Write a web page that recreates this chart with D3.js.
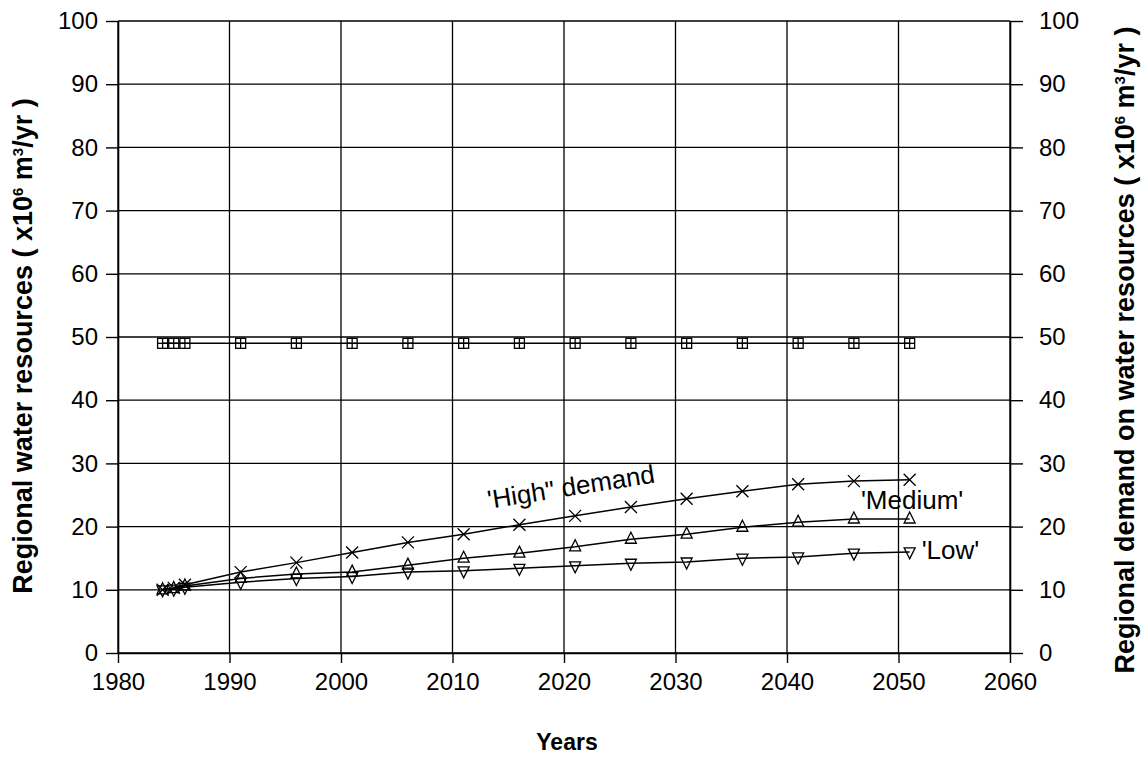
<!DOCTYPE html>
<html>
<head>
<meta charset="utf-8">
<script src="https://cdn.jsdelivr.net/npm/d3@7"></script>
<style>
  html, body { margin: 0; padding: 0; background: #fff; }
  svg { display: block; font-family: "Liberation Sans", Arial, sans-serif; }
</style>
</head>
<body>
<svg id="chart" width="1145" height="762"></svg>
<script>
// ---- data ----
const years = [1984, 1985, 1986, 1991, 1996, 2001, 2006, 2011, 2016, 2021, 2026, 2031, 2036, 2041, 2046, 2051];
const resources = [49, 49, 49, 49, 49, 49, 49, 49, 49, 49, 49, 49, 49, 49, 49, 49];
const highDemand = [10.0, 10.3, 10.8, 12.8, 14.3, 15.9, 17.5, 18.8, 20.3, 21.7, 23.1, 24.4, 25.6, 26.7, 27.2, 27.4];
const mediumDemand = [10.0, 10.2, 10.6, 11.8, 12.5, 12.8, 13.9, 15.0, 15.8, 16.8, 18.0, 18.8, 19.9, 20.7, 21.2, 21.2];
const lowDemand = [10.0, 10.1, 10.4, 11.2, 11.8, 12.1, 12.8, 13.0, 13.4, 13.8, 14.2, 14.4, 15.0, 15.2, 15.8, 16.0];
const xTicks = [1980, 1990, 2000, 2010, 2020, 2030, 2040, 2050, 2060];
const yTicks = [0, 10, 20, 30, 40, 50, 60, 70, 80, 90, 100];

// ---- layout ----
const svg = d3.select("#chart");
const L = 118, R = 1010, T = 21, B = 653;
const x = d3.scaleLinear().domain([1980, 2060]).range([L, R]);
const y = d3.scaleLinear().domain([0, 100]).range([B, T]);

// grid
const grid = svg.append("g").attr("stroke", "#000").attr("stroke-width", 1.3);
grid.selectAll("line.h").data(yTicks).join("line")
  .attr("x1", L).attr("x2", R).attr("y1", d => y(d)).attr("y2", d => y(d));
grid.selectAll("line.v").data(xTicks).join("line")
  .attr("y1", T).attr("y2", B).attr("x1", d => x(d)).attr("x2", d => x(d));

// axes
const fs = 24;
function styleAxis(g) {
  g.select(".domain").attr("stroke", "#000").attr("stroke-width", 1.6);
  g.selectAll(".tick line").attr("stroke", "#000").attr("stroke-width", 1.4);
  g.selectAll(".tick text").attr("fill", "#000").style("font-size", fs + "px")
    .style("font-family", '"Liberation Sans", Arial, sans-serif');
}
svg.append("g").attr("transform", `translate(0,${B})`)
  .call(d3.axisBottom(x).tickValues(xTicks).tickFormat(d3.format("d")).tickSize(10).tickPadding(10).tickSizeOuter(0))
  .call(styleAxis);
svg.append("g").attr("transform", `translate(${L},0)`)
  .call(d3.axisLeft(y).tickValues(yTicks).tickSize(12).tickPadding(8).tickSizeOuter(0))
  .call(styleAxis);
svg.append("g").attr("transform", `translate(${R},0)`)
  .call(d3.axisRight(y).tickValues(yTicks).tickSize(13).tickPadding(16).tickSizeOuter(0))
  .call(styleAxis);

// lines
const line = d3.line().x((d, i) => x(years[i])).y(d => y(d));
const series = [resources, highDemand, mediumDemand, lowDemand];
svg.append("g").selectAll("path").data(series).join("path")
  .attr("d", d => line(d)).attr("fill", "none").attr("stroke", "#000").attr("stroke-width", 1.5);

// markers
const mk = svg.append("g").attr("stroke", "#000").attr("stroke-width", 1.3).attr("fill", "none");
// squares with cross
resources.forEach((v, i) => {
  const cx = x(years[i]), cy = y(v);
  mk.append("rect").attr("x", cx - 5).attr("y", cy - 5).attr("width", 10).attr("height", 10);
  mk.append("line").attr("x1", cx).attr("x2", cx).attr("y1", cy - 5).attr("y2", cy + 5);
  mk.append("line").attr("x1", cx - 5).attr("x2", cx + 5).attr("y1", cy).attr("y2", cy);
});
// X markers
highDemand.forEach((v, i) => {
  const cx = x(years[i]), cy = y(v), s = 6;
  mk.append("path").attr("d", `M${cx - s},${cy - s}L${cx + s},${cy + s}M${cx - s},${cy + s}L${cx + s},${cy - s}`);
});
// up triangles
mediumDemand.forEach((v, i) => {
  const cx = x(years[i]), cy = y(v);
  mk.append("path").attr("d", `M${cx},${cy - 7}L${cx + 5.5},${cy + 4}L${cx - 5.5},${cy + 4}Z`);
});
// down triangles
lowDemand.forEach((v, i) => {
  const cx = x(years[i]), cy = y(v);
  mk.append("path").attr("d", `M${cx},${cy + 7}L${cx + 5.5},${cy - 4}L${cx - 5.5},${cy - 4}Z`);
});

// annotations
const ann = svg.append("g").attr("fill", "#000").style("font-size", "26px");
ann.append("text").attr("transform", `translate(${x(2012.2) + 12},${y(22.5) - 2}) rotate(-9)`).text("'High\" demand");
ann.append("text").attr("x", x(2048.6) - 22).attr("y", y(22.8)).text("'Medium'");
ann.append("text").attr("x", x(2051) + 12).attr("y", y(15.7) + 5).text("'Low'");

// axis titles
svg.append("text").attr("x", (L + R) / 2 + 3).attr("y", 750).attr("text-anchor", "middle")
  .style("font-size", "23px").style("font-weight", "bold").text("Years");

const tfs = 27;
function unitTitle(sel, label) {
  sel.append("tspan").text(label + " ( x10");
  sel.append("tspan").attr("dy", -9).style("font-size", "15px").text("6");
  sel.append("tspan").attr("dy", 9).text(" m");
  sel.append("tspan").attr("dy", -9).style("font-size", "15px").text("3");
  sel.append("tspan").attr("dy", 9).text("/yr )");
}
const lt = svg.append("text").attr("transform", `translate(32,346) rotate(-90)`)
  .attr("text-anchor", "middle").style("font-size", tfs + "px").style("font-weight", "bold");
unitTitle(lt, "Regional water resources");
const rt = svg.append("text").attr("transform", `translate(1134,350) rotate(-90)`)
  .attr("text-anchor", "middle").style("font-size", tfs + "px").style("font-weight", "bold");
unitTitle(rt, "Regional demand on water resources");
</script>
</body>
</html>
